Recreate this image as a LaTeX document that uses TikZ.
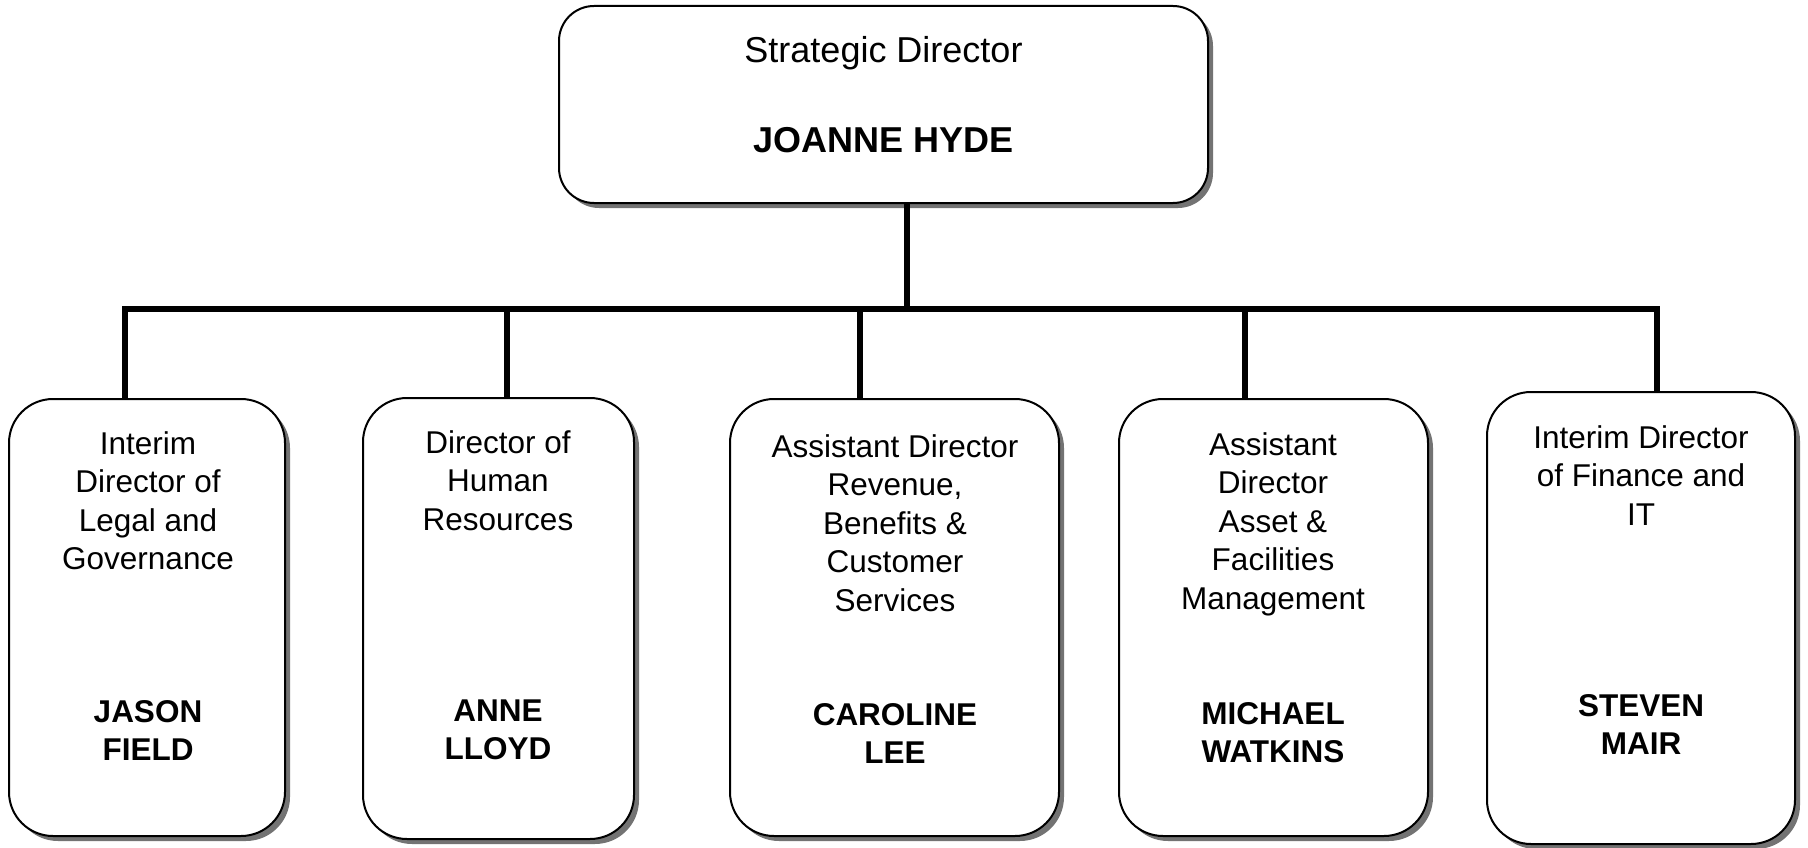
\documentclass[tikz,border=0pt]{standalone}
\usepackage{fontspec}
\setmainfont{Liberation Sans}
\usetikzlibrary{shadows}
\begin{document}
\begin{tikzpicture}[x=1pt,y=-1pt]
\useasboundingbox (0,0) rectangle (1808,848);
\tikzset{
 box/.style={draw=black, line width=2pt, fill=white, rounded corners=44pt,
   drop shadow={shadow xshift=5pt, shadow yshift=-5pt, fill=black!55, opacity=1}},
 topbox/.style={box, rounded corners=35pt},
 conn/.style={line width=5.5pt},
 role/.style={font=\fontsize{31.5}{38.5}\selectfont, align=center, anchor=base, inner sep=0pt},
 pname/.style={role, font=\bfseries\fontsize{31.5}{38.5}\selectfont},
 toprole/.style={role, font=\fontsize{36}{40}\selectfont},
 topname/.style={role, font=\bfseries\fontsize{36}{40}\selectfont}
}
% boxes
\node[topbox, minimum width=649pt, minimum height=197pt] (top) at (883.5,104.5) {};
\node[box, minimum width=276pt, minimum height=437pt] (b1) at (147,617.5) {};
\node[box, minimum width=271pt, minimum height=441pt] (b2) at (498.5,618.5) {};
\node[box, minimum width=329pt, minimum height=437pt] (b3) at (894.5,617.5) {};
\node[box, minimum width=309pt, minimum height=437pt] (b4) at (1273.5,617.5) {};
\node[box, minimum width=308pt, minimum height=452pt] (b5) at (1641,618) {};
% texts (anchor=base is the baseline of the last line)
\node[toprole] (t0) at (883.5,63) {Strategic Director};
\node[topname] (n0) at (883.5,153) {JOANNE HYDE};
\node[role] (t1) at (148,569.5) {Interim\\Director of\\Legal and\\Governance};
\node[pname] (n1) at (148,760.5) {JASON\\FIELD};
\node[role] (t2) at (498,530) {Director of\\Human\\Resources};
\node[pname] (n2) at (498,759.5) {ANNE\\LLOYD};
\node[role] (t3) at (895,611) {Assistant Director\\Revenue,\\Benefits \&\\Customer\\Services};
\node[pname] (n3) at (895,763.5) {CAROLINE\\LEE};
\node[role] (t4) at (1273,609) {Assistant\\Director\\Asset \&\\Facilities\\Management};
\node[pname] (n4) at (1273,762.5) {MICHAEL\\WATKINS};
\node[role] (t5) at (1641,525) {Interim Director\\of Finance and\\IT};
\node[pname] (n5) at (1641,754.5) {STEVEN\\MAIR};
% connectors
\coordinate (j0) at (907,309);
\coordinate (busL) at (125,309);
\coordinate (busR) at (1657,309);
\coordinate (j2) at (507,309);
\coordinate (j3) at (860,309);
\coordinate (j4) at (1245,309);
\draw[conn] (j0) -- (j0 |- top.south);
\draw[conn, line cap=rect] (busL) -- (busR);
\draw[conn] (busL) -- (busL |- b1.north);
\draw[conn] (j2) -- (j2 |- b2.north);
\draw[conn] (j3) -- (j3 |- b3.north);
\draw[conn] (j4) -- (j4 |- b4.north);
\draw[conn] (busR) -- (busR |- b5.north);
\end{tikzpicture}
\end{document}
